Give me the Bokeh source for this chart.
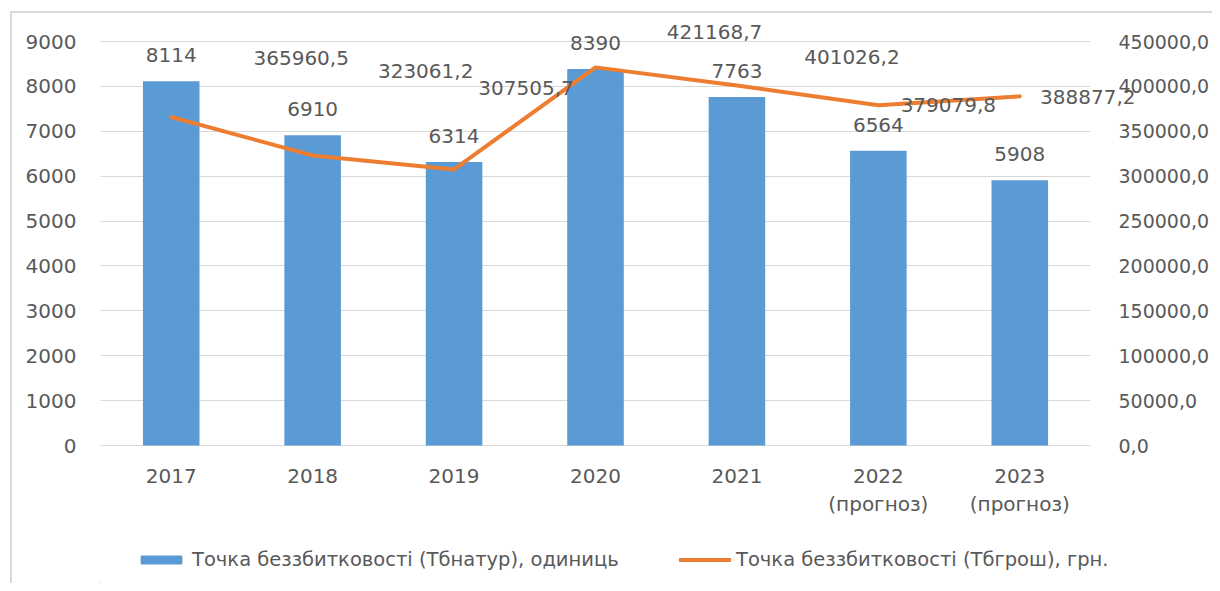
from bokeh.plotting import figure
from bokeh.layouts import column
from bokeh.models import (ColumnDataSource, Range1d, LinearAxis, FixedTicker, BoxAnnotation,
                          CustomJSTickFormatter, Legend, LegendItem)
from bokeh.core.properties import value
from bokeh.embed import file_html
from bokeh.resources import INLINE

years = ["2017", "2018", "2019", "2020", "2021", "2022\n(прогноз)", "2023\n(прогноз)"]
units = [8114, 6910, 6314, 8390, 7763, 6564, 5908]
money = [365960.5, 323061.2, 307505.7, 421168.7, 401026.2, 379079.8, 388877.2]
series_names = ["Точка беззбитковості (Тбнатур), одиниць",
                "Точка беззбитковості (Тбгрош), грн."]
left_ticks = [0, 1000, 2000, 3000, 4000, 5000, 6000, 7000, 8000, 9000]
right_ticks = [0, 50000, 100000, 150000, 200000, 250000, 300000, 350000, 400000, 450000]

# label placement offsets (screen px), as in the reference
money_dx = [130, 113, 72, 119, 115, 70, 68]
money_dy = [-59, -84, -81, -35, -28, 0, 1]

FONT = "DejaVu Sans"
TXT = "#595959"
BLUE = "#5B9BD5"
ORANGE = "#ED7D31"
GRID = "#D9D9D9"

# geometry of the plotting area (px)
W, H1, H2 = 1212, 530, 53
F_LEFT, F_TOP, AX_TOP, AX_BOTTOM, CAT_RIGHT, F_RIGHT, F_BOTTOM = 100, 14, 41, 445, 1090, W, H1
n = len(years)
idx = list(range(n))
px_per_cat = (CAT_RIGHT - F_LEFT) / n
x_end = n - 0.5 + (F_RIGHT - CAT_RIGHT) / px_per_cat
top_k = (AX_BOTTOM - F_TOP) / (AX_BOTTOM - AX_TOP)
bot_k = (F_BOTTOM - AX_BOTTOM) / (AX_BOTTOM - AX_TOP)

p = figure(x_range=Range1d(-0.5, x_end),
           y_range=Range1d(-left_ticks[-1] * bot_k, left_ticks[-1] * top_k),
           width=W, height=H1, output_backend="svg", toolbar_location=None,
           min_border_left=F_LEFT, min_border_right=W - F_RIGHT, min_border_top=F_TOP,
           min_border_bottom=H1 - F_BOTTOM, border_fill_color=None,
           x_axis_location=None)
p.outline_line_color = None
p.extra_y_ranges = {"money": Range1d(-right_ticks[-1] * bot_k, right_ticks[-1] * top_k)}

# hide grid beyond the category area (under the right axis labels)
p.add_layout(BoxAnnotation(left=n - 0.5, fill_color="white", fill_alpha=1, line_color=None,
                           level="underlay"))

bar_src = ColumnDataSource(dict(x=idx, y=units, t=[str(v) for v in units]))
bars = p.vbar(x="x", top="y", width=0.4, source=bar_src, fill_color=BLUE, line_color=None)
p.text(x="x", y="y", text="t", source=bar_src, y_offset=-26, text_align="center",
       text_baseline="middle", text_font=value(FONT), text_font_size="20px", text_color=TXT)

line_src = ColumnDataSource(dict(x=idx, y=money,
                                 t=[f"{v:.1f}".replace(".", ",") for v in money],
                                 dx=money_dx, dy=money_dy))
line = p.line(x="x", y="y", source=line_src, y_range_name="money", line_color=ORANGE,
              line_width=4, line_join="round", line_cap="round")
p.text(x="x", y="y", text="t", source=line_src, y_range_name="money", x_offset="dx",
       y_offset="dy", text_align="center", text_baseline="middle", text_font=value(FONT),
       text_font_size="20px", text_color=TXT)

# axes
def style(ax, size="20px"):
    ax.axis_line_color = None
    ax.major_tick_line_color = None
    ax.minor_tick_line_color = None
    ax.major_label_text_font = FONT
    ax.major_label_text_font_size = size
    ax.major_label_text_color = TXT

p.yaxis.ticker = FixedTicker(ticks=left_ticks)
style(p.yaxis[0])
p.yaxis.major_label_standoff = 18

xax = LinearAxis(ticker=FixedTicker(ticks=idx), fixed_location=0,
                 major_label_overrides={i: y for i, y in zip(idx, years)})
style(xax)
xax.major_label_standoff = 12
p.add_layout(xax, "below")

rax = LinearAxis(y_range_name="money", ticker=FixedTicker(ticks=right_ticks),
                 fixed_location=n - 0.5,
                 formatter=CustomJSTickFormatter(code="return tick.toFixed(1).replace('.', ',');"))
style(rax, "19px")
rax.major_label_standoff = 22
p.add_layout(rax, "right")

p.xgrid.grid_line_color = None
p.ygrid.grid_line_color = GRID
p.ygrid.ticker = FixedTicker(ticks=left_ticks)

# legend strip below the chart (legend glyphs reuse the same data, kept out of view)
q = figure(x_range=Range1d(10, 20), y_range=Range1d(0, 450000), width=W, height=H2,
           output_backend="svg", toolbar_location=None, x_axis_location=None,
           y_axis_location=None, min_border=0, border_fill_color=None,
           background_fill_color=None)
q.outline_line_color = None
q.grid.visible = False
qb = q.vbar(x="x", top="y", width=0.4, source=bar_src, fill_color=BLUE, line_color=None)
ql = q.line(x="x", y="y", source=line_src, line_color=ORANGE, line_width=4, line_cap="round")
# legend x positions are relative to the (aligned) plotting area starting at F_LEFT
for rend, name, xloc in [(qb, series_names[0], 135 - F_LEFT), (ql, series_names[1], 679 - F_LEFT)]:
    lg = Legend(items=[LegendItem(label=name, renderers=[rend])], location=(xloc, 12),
                orientation="horizontal", padding=0, margin=0, border_line_color=None,
                background_fill_alpha=0, glyph_width=52, glyph_height=11, label_standoff=5,
                label_text_font=FONT, label_text_font_size="19.5px", label_text_color=TXT)
    q.add_layout(lg)

page = column(p, q, spacing=0)
page.styles = {
    "background-image": "linear-gradient(#D9D9D9, #D9D9D9), linear-gradient(#D9D9D9, #D9D9D9)",
    "background-size": "2px 100%, 100% 2px",
    "background-position": "10px 11px, 10px 11px",
    "background-repeat": "no-repeat",
}

open("out.html", "w").write(file_html(page, INLINE))
